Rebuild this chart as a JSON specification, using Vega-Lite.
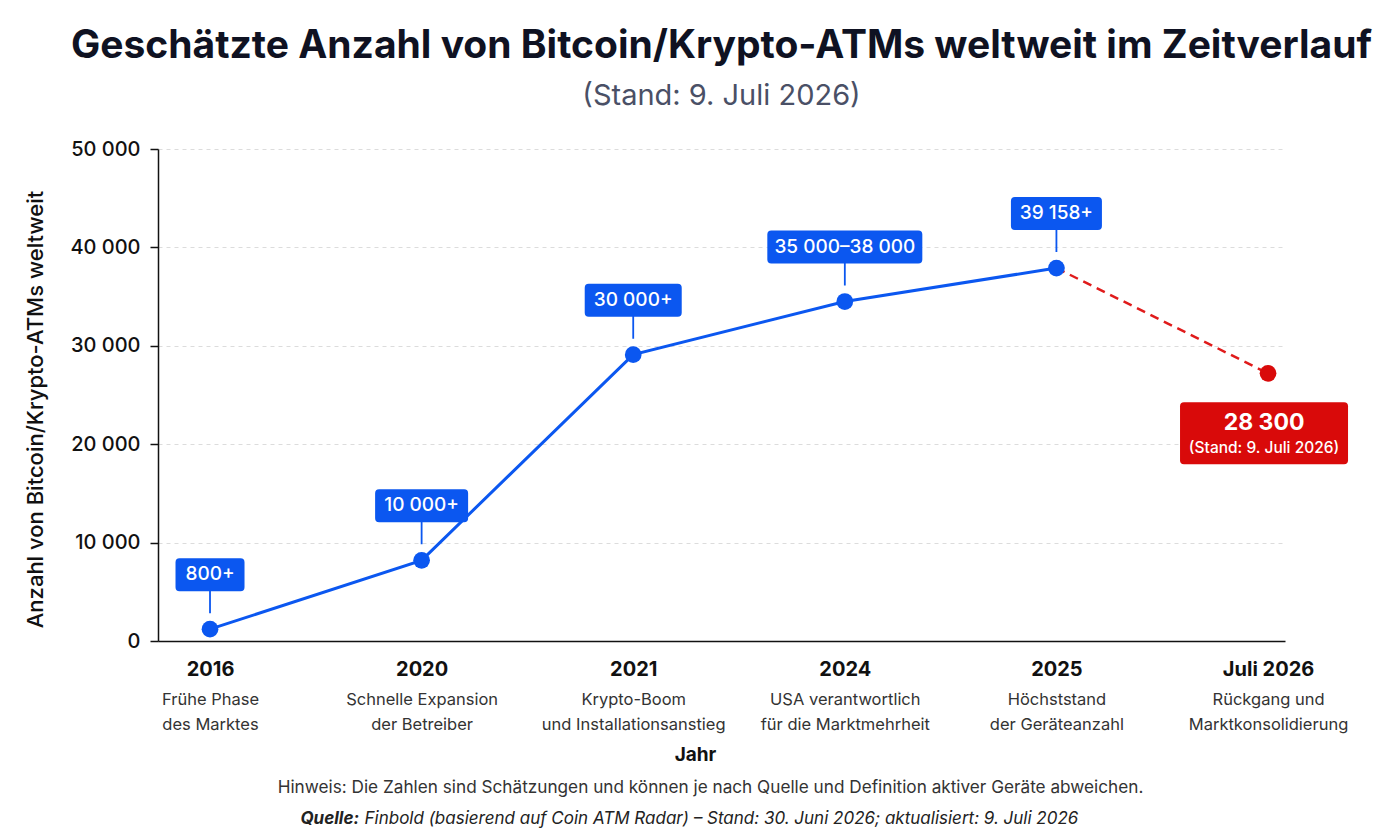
{
  "$schema": "https://vega.github.io/schema/vega-lite/v6.json",
  "width": 1127,
  "height": 492,
  "autosize": {"type": "none"},
  "padding": {"left": 158, "top": 149, "right": 115, "bottom": 199},
  "background": "#ffffff",
  "title": {
    "text": "Geschätzte Anzahl von Bitcoin/Krypto-ATMs weltweit im Zeitverlauf",
    "subtitle": "(Stand: 9. Juli 2026)",
    "anchor": "middle",
    "font": "Inter",
    "fontSize": 39,
    "fontWeight": 700,
    "color": "#0f1222",
    "subtitleFont": "Inter",
    "subtitleFontSize": 29,
    "subtitleColor": "#4a5066",
    "subtitlePadding": 16,
    "offset": 28
  },
  "config": {
    "font": "Inter",
    "view": {"stroke": null},
    "axis": {"labelFont": "Inter", "titleFont": "Inter"}
  },
  "data": {
    "values": [
      {"jahr": "2016", "anzahl": 1200, "label": "800+", "status": "historisch"},
      {"jahr": "2020", "anzahl": 8200, "label": "10 000+", "status": "historisch"},
      {"jahr": "2021", "anzahl": 29100, "label": "30 000+", "status": "historisch"},
      {"jahr": "2024", "anzahl": 34500, "label": "35 000–38 000", "status": "historisch"},
      {"jahr": "2025", "anzahl": 37900, "label": "39 158+", "status": "historisch"},
      {"jahr": "Juli 2026", "anzahl": 27200, "label": "28 300", "zusatz": "(Stand: 9. Juli 2026)", "status": "aktuell"}
    ]
  },
  "resolve": {"axis": {"x": "independent", "y": "independent"}},
  "layer": [
    {
      "transform": [{"filter": "datum.status == 'historisch'"}],
      "mark": {"type": "line", "color": "#0b57f0", "strokeWidth": 3},
      "encoding": {
        "x": {
          "field": "jahr", "type": "ordinal", "sort": null,
          "scale": {"type": "point", "domain": ["2016", "2020", "2021", "2024", "2025", "Juli 2026"], "padding": 0.163, "align": 0.754},
          "axis": {"orient": "bottom", "title": null, "labelFontSize": 20, "labelFontWeight": 700, "labelColor": "#111111", "labelPadding": 18, "ticks": false, "domainColor": "#111111", "domainWidth": 1.5, "labelAngle": 0, "grid": false, "labelOverlap": false, "labelLimit": 300}
        },
        "y": {
          "field": "anzahl", "type": "quantitative",
          "scale": {"domain": [0, 50000]},
          "axis": {
            "title": "Anzahl von Bitcoin/Krypto-ATMs weltweit",
            "values": [0, 10000, 20000, 30000, 40000, 50000],
            "labelExpr": "replace(format(datum.value, ','), ',', ' ')",
            "labelFontSize": 20, "labelFontWeight": 500, "labelColor": "#111111", "labelPadding": 10,
            "tickSize": 8, "tickColor": "#111111", "tickWidth": 1.5,
            "domainColor": "#111111", "domainWidth": 1.5,
            "grid": true, "gridDash": [4, 4], "gridColor": "#dcdcdc",
            "titleFontSize": 22, "titleFontWeight": 500, "titleColor": "#111111", "titlePadding": 22, "titleY": 260, "titleAlign": "center"
          }
        }
      }
    },
    {
      "transform": [{"filter": "datum.jahr == '2025' || datum.jahr == 'Juli 2026'"}],
      "mark": {"type": "line", "color": "#e01b1b", "strokeWidth": 2.5, "strokeDash": [9, 6]},
      "encoding": {
        "x": {
          "field": "jahr", "type": "ordinal", "sort": null,
          "axis": {
            "orient": "bottom", "title": null, "domain": false, "ticks": false, "grid": false, "labelAngle": 0,
            "labelFontSize": 16.5, "labelColor": "#333333", "labelPadding": 50, "labelLineHeight": 25, "labelOverlap": false, "labelLimit": 400,
            "labelExpr": "datum.label == '2016' ? ['Frühe Phase', 'des Marktes'] : datum.label == '2020' ? ['Schnelle Expansion', 'der Betreiber'] : datum.label == '2021' ? ['Krypto-Boom', 'und Installationsanstieg'] : datum.label == '2024' ? ['USA verantwortlich', 'für die Marktmehrheit'] : datum.label == '2025' ? ['Höchststand', 'der Geräteanzahl'] : ['Rückgang und', 'Marktkonsolidierung']"
          }
        },
        "y": {"field": "anzahl", "type": "quantitative", "axis": null}
      }
    },
    {
      "mark": {"type": "point", "filled": true, "opacity": 1, "size": 4, "strokeWidth": 0},
      "encoding": {
        "x": {
          "field": "jahr", "type": "ordinal", "sort": null,
          "axis": {"orient": "bottom", "domain": false, "ticks": false, "labels": false, "grid": false, "title": "Jahr", "titleFontSize": 19, "titleFontWeight": 700, "titleColor": "#111111", "titleX": 537, "titleY": 119, "titleBaseline": "alphabetic", "titleAlign": "center"}
        },
        "y": {"field": "anzahl", "type": "quantitative", "axis": null},
        "shape": {
          "field": "label", "type": "nominal", "legend": null,
          "scale": {
            "domain": ["800+", "10 000+", "30 000+", "35 000–38 000", "39 158+", "28 300"],
            "range": [
              "M-30.5,-71H30.5Q34.5,-71 34.5,-67V-42Q34.5,-38 30.5,-38H-30.5Q-34.5,-38 -34.5,-42V-67Q-34.5,-71 -30.5,-71ZM-0.9,-38H0.9V-16H-0.9Z",
              "M-42.5,-71H42.5Q46.5,-71 46.5,-67V-42Q46.5,-38 42.5,-38H-42.5Q-46.5,-38 -46.5,-42V-67Q-46.5,-71 -42.5,-71ZM-0.9,-38H0.9V-16H-0.9Z",
              "M-44.5,-71H44.5Q48.5,-71 48.5,-67V-42Q48.5,-38 44.5,-38H-44.5Q-48.5,-38 -48.5,-42V-67Q-48.5,-71 -44.5,-71ZM-0.9,-38H0.9V-16H-0.9Z",
              "M-73.5,-71H73.5Q77.5,-71 77.5,-67V-42Q77.5,-38 73.5,-38H-73.5Q-77.5,-38 -77.5,-42V-67Q-77.5,-71 -73.5,-71ZM-0.9,-38H0.9V-16H-0.9Z",
              "M-41.5,-71H41.5Q45.5,-71 45.5,-67V-42Q45.5,-38 41.5,-38H-41.5Q-45.5,-38 -45.5,-42V-67Q-45.5,-71 -41.5,-71ZM-0.9,-38H0.9V-16H-0.9Z",
              "M-84,29H76Q80,29 80,33V87Q80,91 76,91H-84Q-88,91 -88,87V33Q-88,29 -84,29Z"
            ]
          }
        },
        "color": {
          "field": "status", "type": "nominal", "legend": null,
          "scale": {"domain": ["historisch", "aktuell"], "range": ["#0b57f0", "#d90a0a"]}
        }
      }
    },
    {
      "mark": {"type": "circle", "opacity": 1, "size": 280},
      "encoding": {
        "x": {
          "field": "jahr", "type": "ordinal", "sort": null,
          "axis": {"orient": "bottom", "domain": false, "ticks": false, "labels": false, "grid": false, "title": "Hinweis: Die Zahlen sind Schätzungen und können je nach Quelle und Definition aktiver Geräte abweichen.", "titleFontSize": 17.2, "titleFontWeight": 400, "titleColor": "#333333", "titleX": 552, "titleY": 151, "titleBaseline": "alphabetic", "titleAlign": "center", "titleLimit": 1200}
        },
        "y": {"field": "anzahl", "type": "quantitative", "axis": null},
        "color": {
          "field": "status", "type": "nominal", "legend": null,
          "scale": {"domain": ["historisch", "aktuell"], "range": ["#0b57f0", "#e01b1b"]}
        }
      }
    },
    {
      "transform": [{"filter": "datum.status == 'historisch'"}],
      "mark": {"type": "text", "color": "#ffffff", "fontSize": 19, "fontWeight": 500, "baseline": "middle", "align": "center", "dy": -55},
      "encoding": {
        "x": {
          "field": "jahr", "type": "ordinal", "sort": null,
          "axis": {"orient": "bottom", "domain": false, "ticks": false, "labels": false, "grid": false, "title": "Quelle:", "titleFontSize": 17, "titleFontWeight": 700, "titleFontStyle": "italic", "titleColor": "#222222", "titleX": 142, "titleY": 182, "titleBaseline": "alphabetic", "titleAlign": "left"}
        },
        "y": {"field": "anzahl", "type": "quantitative", "axis": null},
        "text": {"field": "label"}
      }
    },
    {
      "transform": [{"filter": "datum.status == 'aktuell'"}],
      "mark": {"type": "text", "color": "#ffffff", "fontSize": 23, "fontWeight": 700, "baseline": "middle", "align": "center", "dx": -4, "dy": 50},
      "encoding": {
        "x": {
          "field": "jahr", "type": "ordinal", "sort": null,
          "axis": {"orient": "bottom", "domain": false, "ticks": false, "labels": false, "grid": false, "title": "Finbold (basierend auf Coin ATM Radar) – Stand: 30. Juni 2026; aktualisiert: 9. Juli 2026", "titleFontSize": 17, "titleFontWeight": 400, "titleFontStyle": "italic", "titleColor": "#222222", "titleX": 206, "titleY": 182, "titleBaseline": "alphabetic", "titleAlign": "left", "titleLimit": 1200}
        },
        "y": {"field": "anzahl", "type": "quantitative", "axis": null},
        "text": {"field": "label"}
      }
    },
    {
      "transform": [{"filter": "datum.status == 'aktuell'"}],
      "mark": {"type": "text", "color": "#ffffff", "fontSize": 15.5, "fontWeight": 500, "baseline": "middle", "align": "center", "dx": -4, "dy": 75},
      "encoding": {
        "x": {"field": "jahr", "type": "ordinal", "sort": null, "axis": null},
        "y": {"field": "anzahl", "type": "quantitative", "axis": null},
        "text": {"field": "zusatz"}
      }
    }
  ]
}
